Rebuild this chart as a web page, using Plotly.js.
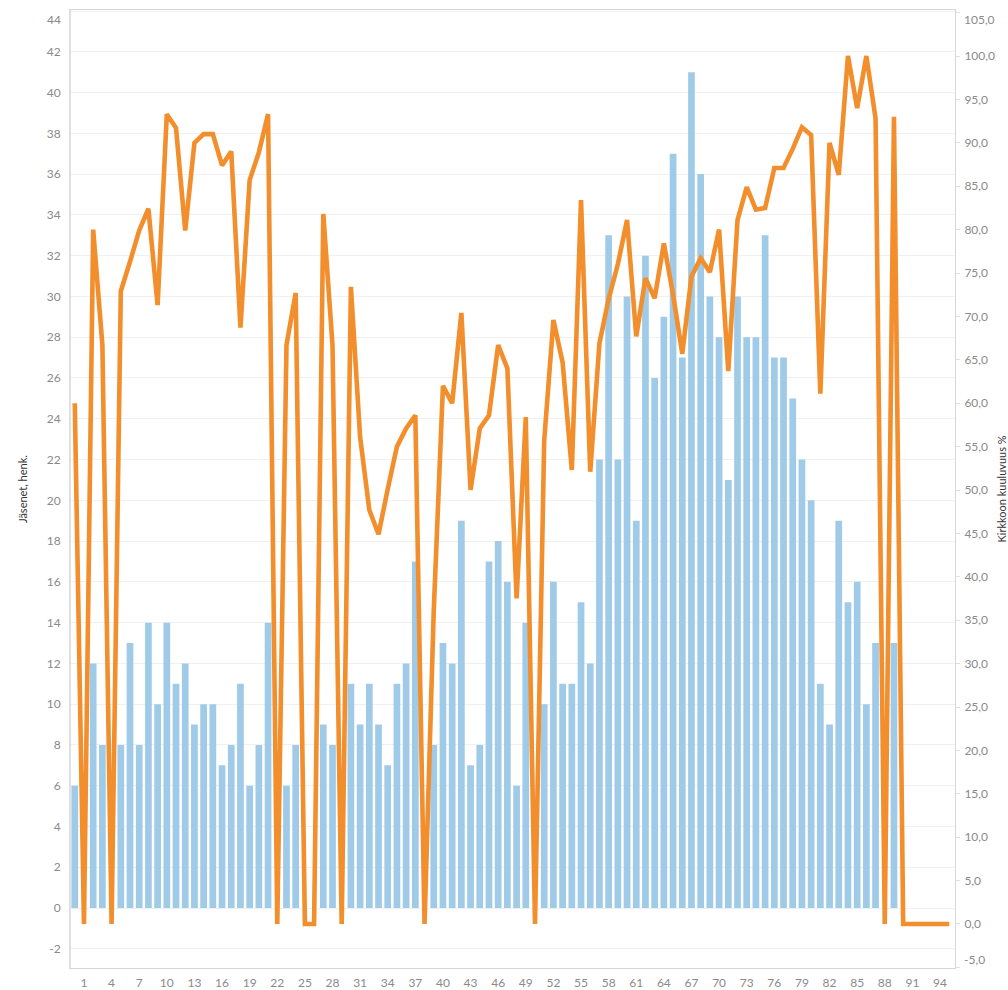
<!DOCTYPE html>
<html>
<head>
<meta charset="utf-8">
<script src="https://cdn.plot.ly/plotly-3.0.1.min.js"></script>
<style>
  html, body { margin: 0; padding: 0; background: #fff; }
  #chart { width: 1008px; height: 990px; }
</style>
</head>
<body>
<div id="chart"></div>
<script>
// Category positions (0..95)
const categories = [0,1,2,3,4,5,6,7,8,9,10,11,12,13,14,15,16,17,18,19,
  20,21,22,23,24,25,26,27,28,29,30,31,32,33,34,35,36,37,38,39,
  40,41,42,43,44,45,46,47,48,49,50,51,52,53,54,55,56,57,58,59,
  60,61,62,63,64,65,66,67,68,69,70,71,72,73,74,75,76,77,78,79,
  80,81,82,83,84,85,86,87,88,89,90,91,92,93,94,95];

// Jäsenet, henk. (bars, left axis)
const members = [6,0,12,8,0,8,13,8,14,10,14,11,12,9,10,10,7,8,11,6,
  8,14,0,6,8,0,0,9,8,0,11,9,11,9,7,11,12,17,0,8,
  13,12,19,7,8,17,18,16,6,14,0,10,16,11,11,15,12,22,33,22,
  30,19,32,26,29,37,27,41,36,30,28,21,30,28,28,33,27,27,25,22,
  20,11,9,19,15,16,10,13,0,13,0,0,0,0,0,0];

// Kirkkoon kuuluvuus % (line, right axis)
const membershipPct = [60.0,0,80.0,66.7,0,72.9,76.3,79.9,82.4,71.3,
  93.3,91.7,79.9,90.0,91.0,91.0,87.4,89.0,68.7,85.7,
  88.9,93.3,0,66.7,72.7,0,0,81.8,66.7,0,
  73.4,56.1,47.7,44.9,50.1,55.0,57.1,58.6,0,36.1,
  62.0,60.0,70.4,50.0,57.1,58.6,66.7,64.0,37.5,58.4,
  0,55.7,69.6,64.7,52.3,83.4,52.1,66.9,72.0,76.0,
  81.1,67.7,74.4,72.1,78.4,72.5,65.7,74.6,76.7,75.1,
  80.0,63.7,81.1,84.9,82.3,82.5,87.1,87.1,89.3,91.8,
  90.9,61.1,90.0,86.3,100.0,94.0,100.0,92.8,0,93.0,
  0,0,0,0,0,0];

// X tick labels
const xTickVals = [1,4,7,10,13,16,19,22,25,28,31,34,37,40,43,46,49,52,55,58,61,64,67,70,73,76,79,82,85,88,91,94];
const xTickText = ["1","4","7","10","13","16","19","22","25","28","31","34","37","40","43","46","49","52","55","58","61","64","67","70","73","76","79","82","85","88","91","94"];

// Left axis ticks (edge labels drawn nudged inward, as in the reference)
const leftTicks = [-2,0,2,4,6,8,10,12,14,16,18,20,22,24,26,28,30,32,34,36,38,40,42,44];
const leftTopLabel = "44";
// Right axis ticks
const rightTicks = [-5,0,5,10,15,20,25,30,35,40,45,50,55,60,65,70,75,80,85,90,95,100,105];
const rightTopLabel = "105,0";
const rightBottomLabel = "-5,0";

const font = "Lato, 'Open Sans', 'DejaVu Sans', sans-serif";
const tickColor = "#8a8a8a";

const leftTickText = leftTicks.map(v => (v === 44 ? "" : String(v)));
const rightTickText = rightTicks.map(v => (v === 105 || v === -5) ? "" : v.toFixed(1).replace(".", ","));

const traces = [
  {
    type: "bar",
    x: categories,
    y: members,
    width: 0.73,
    marker: { color: "#A0CBE8" },
    yaxis: "y",
    name: "Jäsenet, henk."
  },
  {
    type: "scatter",
    mode: "lines",
    x: categories,
    y: membershipPct,
    yaxis: "y2",
    line: { color: "#F28E2B", width: 4.6, shape: "linear" },
    name: "Kirkkoon kuuluvuus %"
  }
];

const tickFont = { family: font, size: 12, color: tickColor };

const layout = {
  width: 1008,
  height: 990,
  margin: { l: 71, r: 53, t: 10, b: 22 },
  paper_bgcolor: "#ffffff",
  plot_bgcolor: "#ffffff",
  showlegend: false,
  separators: ", ",
  font: { family: font, size: 12, color: tickColor },
  xaxis: {
    range: [-0.41, 95.63],
    tickmode: "array",
    tickvals: xTickVals,
    ticktext: xTickText,
    ticks: "",
    showgrid: false,
    zeroline: false,
    showline: true,
    linecolor: "#d6d6d6",
    linewidth: 1,
    mirror: true,
    ticklabelstandoff: 4,
    tickfont: tickFont
  },
  yaxis: {
    range: [-2.94, 44.05],
    tickmode: "array",
    tickvals: leftTicks,
    ticktext: leftTickText,
    ticks: "",
    showgrid: true,
    gridcolor: "#f0f0f0",
    gridwidth: 1,
    zeroline: false,
    showline: true,
    linecolor: "#e0e0e0",
    linewidth: 2,
    ticklabelstandoff: 6,
    tickfont: tickFont
  },
  yaxis2: {
    overlaying: "y",
    side: "right",
    range: [-5.07, 105.3],
    tickmode: "array",
    tickvals: rightTicks,
    ticktext: rightTickText,
    ticks: "outside",
    ticklen: 4,
    tickcolor: "#e0e0e0",
    showgrid: false,
    zeroline: false,
    showline: true,
    linecolor: "#d6d6d6",
    linewidth: 1,
    ticklabelstandoff: 2,
    tickfont: tickFont
  },
  annotations: [
    {
      text: "Jäsenet, henk.",
      xref: "paper", yref: "paper",
      x: -0.0554, y: 0.5,
      xanchor: "center", yanchor: "middle",
      textangle: -90,
      showarrow: false,
      font: { family: font, size: 11, color: "#333333" }
    },
    {
      text: "Kirkkoon kuuluvuus %",
      xref: "paper", yref: "paper",
      x: 1.0515, y: 0.5,
      xanchor: "center", yanchor: "middle",
      textangle: -90,
      showarrow: false,
      font: { family: font, size: 11, color: "#333333" }
    },
    {
      text: leftTopLabel,
      xref: "paper", yref: "paper",
      x: -0.0085, y: 0.9906,
      xanchor: "right", yanchor: "middle",
      showarrow: false,
      font: tickFont
    },
    {
      text: rightTopLabel,
      xref: "paper", yref: "paper",
      x: 1.0079, y: 0.9906,
      xanchor: "left", yanchor: "middle",
      showarrow: false,
      font: tickFont
    },
    {
      text: rightBottomLabel,
      xref: "paper", yref: "paper",
      x: 1.0079, y: 0.0084,
      xanchor: "left", yanchor: "middle",
      showarrow: false,
      font: tickFont
    }
  ]
};

Plotly.newPlot("chart", traces, layout, { displayModeBar: false, staticPlot: true });
</script>
</body>
</html>
